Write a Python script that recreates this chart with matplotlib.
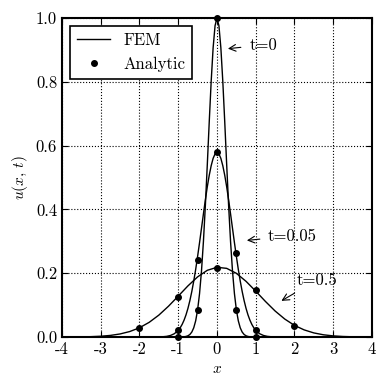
import matplotlib
matplotlib.use('Agg')
import matplotlib.pyplot as plt

plt.rcParams['font.family'] = 'serif'
plt.rcParams['font.serif'] = ['cmr10']
plt.rcParams['mathtext.fontset'] = 'cm'
plt.rcParams['axes.unicode_minus'] = False
plt.rcParams['axes.formatter.use_mathtext'] = False

# FEM solution, t = 0
x_fem_0 = [-4.0, -1.0, -0.95, -0.9, -0.85, -0.8, -0.75, -0.7, -0.65, -0.6, -0.55,
           -0.5, -0.45, -0.4, -0.35, -0.3, -0.25, -0.2, -0.15, -0.1, -0.05, 0.0,
           0.05, 0.1, 0.15, 0.2, 0.25, 0.3, 0.35, 0.4, 0.45, 0.5,
           0.55, 0.6, 0.65, 0.7, 0.75, 0.8, 0.85, 0.9, 0.95, 1.0, 4.0]
u_fem_0 = [0.0, 0.0, 0.0001, 0.0003, 0.0008, 0.0018, 0.0039, 0.0080, 0.0156, 0.0289, 0.0509,
           0.0854, 0.1363, 0.2071, 0.2995, 0.4124, 0.5405, 0.6746, 0.8013, 0.9063, 0.9757, 1.0,
           0.9757, 0.9063, 0.8013, 0.6746, 0.5405, 0.4124, 0.2995, 0.2071, 0.1363, 0.0854,
           0.0509, 0.0289, 0.0156, 0.0080, 0.0039, 0.0018, 0.0008, 0.0003, 0.0001, 0.0, 0.0]

# FEM solution, t = 0.05
x_fem_005 = [-4.0, -1.5, -1.4, -1.3, -1.2, -1.1, -1.0, -0.95, -0.9, -0.85, -0.8, -0.75,
             -0.7, -0.65, -0.6, -0.55, -0.5, -0.45, -0.4, -0.35, -0.3, -0.25, -0.2,
             -0.15, -0.1, -0.05, 0.0, 0.05, 0.1, 0.15, 0.2, 0.25, 0.3, 0.35, 0.4,
             0.45, 0.5, 0.55, 0.6, 0.65, 0.7, 0.75, 0.8, 0.85, 0.9, 0.95, 1.0,
             1.1, 1.2, 1.3, 1.4, 1.5, 4.0]
u_fem_005 = [0.0, 0.0002, 0.0009, 0.0021, 0.0049, 0.0105, 0.0210, 0.0290, 0.0395, 0.0528, 0.0694, 0.0897,
             0.1141, 0.1427, 0.1755, 0.212, 0.253, 0.296, 0.341, 0.386, 0.430, 0.471, 0.507,
             0.537, 0.560, 0.574, 0.579, 0.574, 0.560, 0.537, 0.507, 0.471, 0.430, 0.386, 0.341,
             0.296, 0.253, 0.212, 0.1755, 0.1427, 0.1141, 0.0897, 0.0694, 0.0528, 0.0395, 0.0290, 0.0210,
             0.0105, 0.0049, 0.0021, 0.0009, 0.0002, 0.0]

# FEM solution, t = 0.5
x_fem_05 = [-4.0, -3.75, -3.5, -3.25, -3.0, -2.75, -2.5, -2.25, -2.0, -1.75, -1.5,
            -1.25, -1.0, -0.75, -0.5, -0.25, 0.0, 0.25, 0.5, 0.75, 1.0, 1.25,
            1.5, 1.75, 2.0, 2.25, 2.5, 2.75, 3.0, 3.25, 3.5, 3.75, 4.0]
u_fem_05 = [0.0001, 0.0002, 0.0005, 0.0012, 0.0025, 0.0051, 0.0097, 0.0173, 0.0291, 0.0461, 0.0688,
            0.0968, 0.1283, 0.1603, 0.1886, 0.2092, 0.2186, 0.2153, 0.1997, 0.1746, 0.1438, 0.1116,
            0.0816, 0.0563, 0.0365, 0.0224, 0.0129, 0.0070, 0.0036, 0.0017, 0.0008, 0.0003, 0.0001]

# analytic points
x_an_0 = [-1.0, -0.5, 0.0, 0.5, 1.0]
u_an_0 = [0.0, 0.085, 1.0, 0.085, 0.0]
x_an_005 = [-1.0, -0.5, 0.0, 0.5, 1.0]
u_an_005 = [0.022, 0.241, 0.579, 0.263, 0.021]
x_an_05 = [-2.0, -1.0, 0.0, 1.0, 2.0]
u_an_05 = [0.029, 0.127, 0.217, 0.146, 0.036]

fig = plt.figure(figsize=(3.86, 3.91), dpi=100)
ax = fig.add_axes([0.1606, 0.138, 0.8031, 0.816])

ax.plot(x_fem_0, u_fem_0, 'k-', lw=1.0, label='FEM')
ax.plot(x_fem_005, u_fem_005, 'k-', lw=1.0)
ax.plot(x_fem_05, u_fem_05, 'k-', lw=1.0)
ax.plot(x_an_0, u_an_0, 'ko', ms=4, label='Analytic', clip_on=False)
ax.plot(x_an_005, u_an_005, 'ko', ms=4, clip_on=False)
ax.plot(x_an_05, u_an_05, 'ko', ms=4, clip_on=False)

ap = dict(arrowstyle='->', color='k', lw=0.8, shrinkA=4)
ax.annotate('t=0', xy=(0.21, 0.903), xytext=(0.83, 0.915), ha='left', va='center',
            fontsize=12, arrowprops=ap)
ax.annotate('t=0.05', xy=(0.70, 0.302), xytext=(1.32, 0.317), ha='left', va='center',
            fontsize=12, arrowprops=ap)
ax.annotate('t=0.5', xy=(1.60, 0.109), xytext=(2.06, 0.179), ha='left', va='center',
            fontsize=12, arrowprops=ap)

ax.set_xlim(-4, 4)
ax.set_ylim(0, 1)
ax.set_xticks([-4, -3, -2, -1, 0, 1, 2, 3, 4])
ax.set_xticklabels(['-4', '-3', '-2', '-1', '0', '1', '2', '3', '4'])
ax.set_yticks([0.0, 0.2, 0.4, 0.6, 0.8, 1.0])
ax.set_yticklabels(['0.0', '0.2', '0.4', '0.6', '0.8', '1.0'])
ax.tick_params(direction='in', top=True, right=True, length=4, width=0.8, labelsize=12)
ax.grid(True, linestyle=':', color='k', lw=0.8)
for s in ax.spines.values():
    s.set_linewidth(1.5)

ax.set_xlabel('$x$', fontsize=11)
ax.set_ylabel('$u(x,\\,t)$', fontsize=11)

leg = ax.legend(loc='upper left', fontsize=12, fancybox=False, framealpha=1,
                edgecolor='k', numpoints=1, handlelength=2.0)
leg.get_frame().set_linewidth(1.2)

fig.savefig('out.png', dpi=100)
